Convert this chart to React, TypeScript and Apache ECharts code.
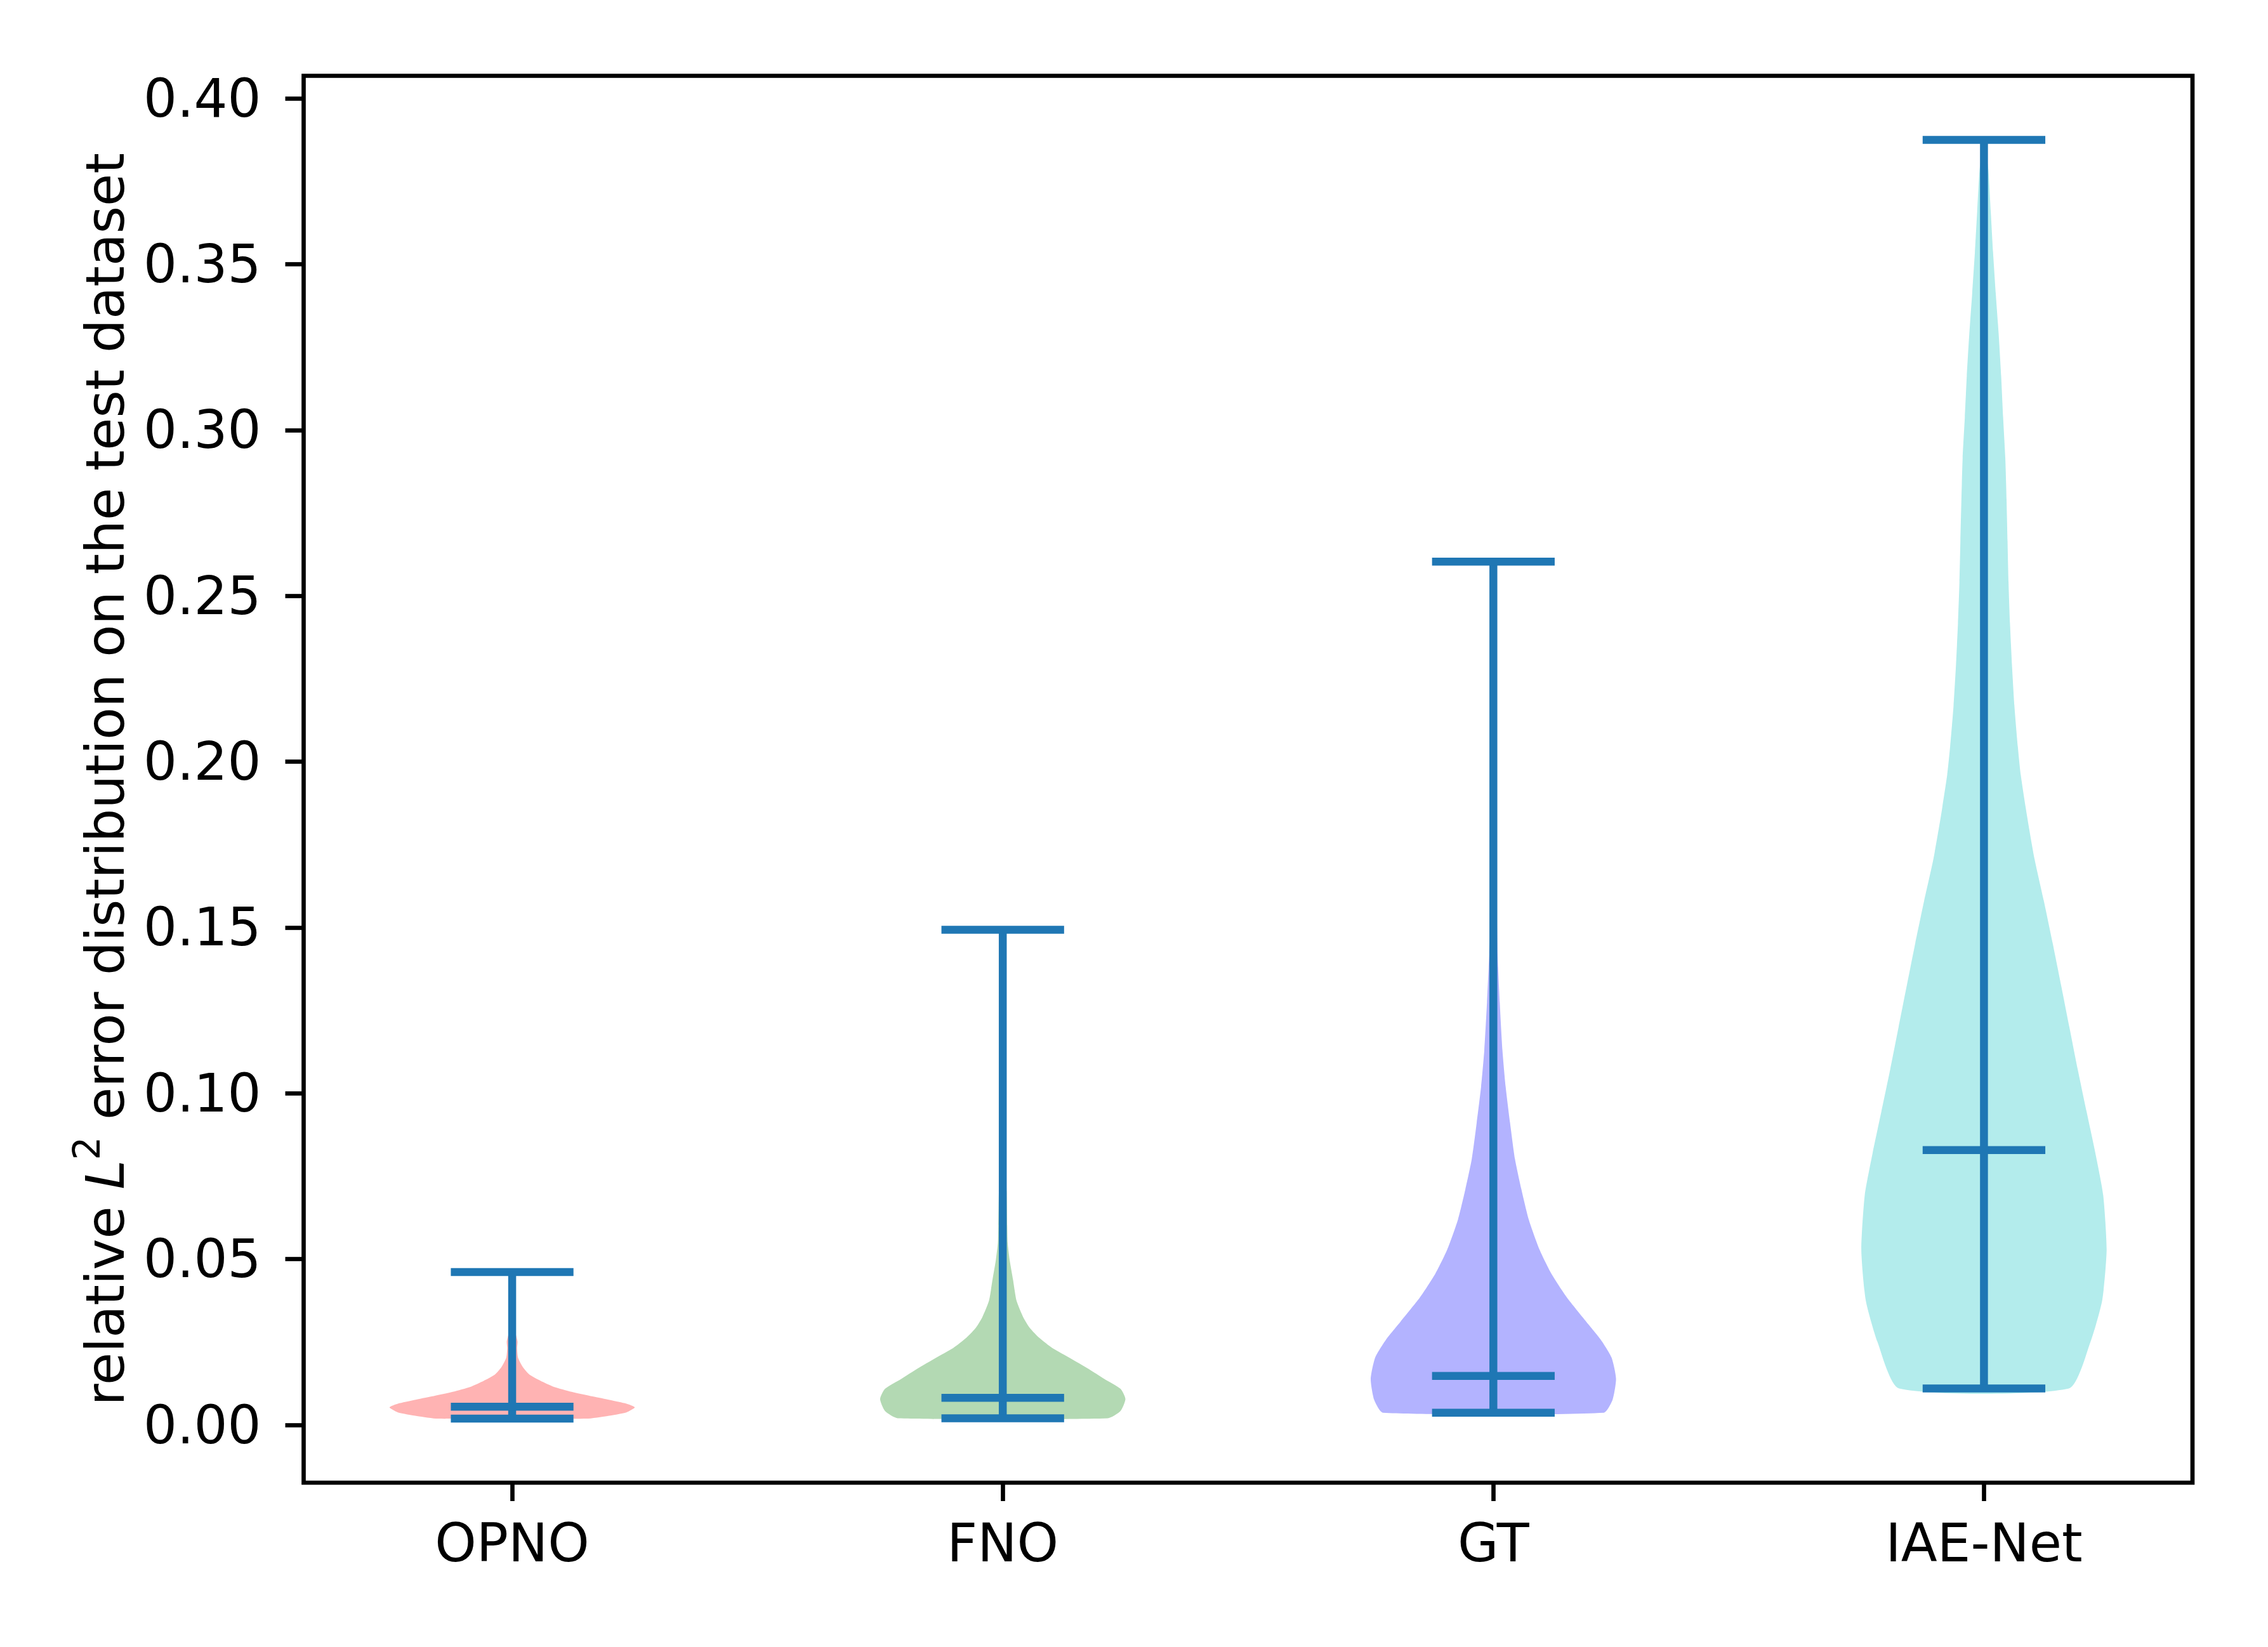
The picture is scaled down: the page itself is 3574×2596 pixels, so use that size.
import React, { useEffect, useRef } from "react";
import * as echarts from "echarts";

const categories = ["OPNO", "FNO", "GT", "IAE-Net"];
const positions = [1, 2, 3, 4];
const mins = [0.0019, 0.002, 0.0037, 0.011];
const medians = [0.0055, 0.0082, 0.0148, 0.0829];
const maxs = [0.0461, 0.1493, 0.2603, 0.3875];

const opnoY = [0.0019, 0.0027, 0.0038, 0.0053, 0.0064, 0.0075, 0.0086, 0.01, 0.0115, 0.0133, 0.0152, 0.0174, 0.0203, 0.0232, 0.0251, 0.0276, 0.0306, 0.035, 0.04, 0.0461];
const opnoW = [0.151, 0.194, 0.233, 0.25, 0.233, 0.2, 0.164, 0.121, 0.085, 0.058, 0.035, 0.022, 0.012, 0.01, 0.011, 0.007, 0.003, 0.001, 0.0005, 0.0002];

const fnoY = [0.002, 0.0042, 0.0078, 0.0109, 0.0139, 0.017, 0.0201, 0.0232, 0.0262, 0.0293, 0.0324, 0.0375, 0.0437, 0.0498, 0.0549, 0.0601, 0.0703, 0.0806, 0.0949, 0.101, 0.12, 0.1493];
const fnoW = [0.214, 0.24, 0.25, 0.24, 0.207, 0.174, 0.138, 0.101, 0.075, 0.055, 0.042, 0.028, 0.021, 0.014, 0.01, 0.009, 0.008, 0.006, 0.004, 0.002, 0.0008, 0.0002];

const gtY = [0.0037, 0.0076, 0.0139, 0.0203, 0.0257, 0.0312, 0.0384, 0.0457, 0.0529, 0.062, 0.0711, 0.0802, 0.0911, 0.102, 0.1129, 0.1274, 0.1419, 0.1564, 0.1746, 0.2037, 0.23, 0.2603];
const gtW = [0.225, 0.243, 0.25, 0.241, 0.219, 0.189, 0.15, 0.118, 0.094, 0.072, 0.057, 0.044, 0.034, 0.025, 0.0185, 0.013, 0.0086, 0.0069, 0.005, 0.003, 0.0015, 0.0003];

const iaeY = [0.011, 0.025, 0.0376, 0.0528, 0.0693, 0.082, 0.0946, 0.1073, 0.12, 0.1327, 0.1453, 0.158, 0.1707, 0.1834, 0.196, 0.2045, 0.2169, 0.2293, 0.2417, 0.2542, 0.2666, 0.279, 0.2915, 0.3039, 0.3163, 0.3288, 0.3412, 0.3536, 0.366, 0.3784, 0.3875];
const iaeW = [0.173, 0.217, 0.241, 0.25, 0.243, 0.227, 0.209, 0.191, 0.174, 0.157, 0.14, 0.122, 0.103, 0.088, 0.075, 0.069, 0.062, 0.057, 0.053, 0.05, 0.048, 0.046, 0.0435, 0.039, 0.035, 0.03, 0.024, 0.0185, 0.0138, 0.009, 0.0005];

const yTicks = [0, 0.05, 0.1, 0.15, 0.2, 0.25, 0.3, 0.35, 0.4];
const bodyColors = ["#ffb3b3", "#b3d9b3", "#b3b3ff", "#b3ecec"];
const lineColor = "#1f77b4";
const capHalf = 0.125;

const FONT = "DejaVu Sans";
const FS = 83.3;

export default function App() {
  const ref = useRef<HTMLDivElement>(null);
  useEffect(() => {
    const chart = echarts.init(ref.current!, null, { renderer: "svg" });
    const profiles = [
      [opnoY, opnoW],
      [fnoY, fnoW],
      [gtY, gtW],
      [iaeY, iaeW],
    ];
    chart.setOption({
      animation: false,
      backgroundColor: "#ffffff",
      grid: {
        left: 478.5,
        top: 119.5,
        width: 2976.5,
        height: 2217.5,
        show: true,
        borderColor: "#000",
        borderWidth: 6.67,
        backgroundColor: "transparent",
        containLabel: false,
      },
      xAxis: {
        type: "value",
        min: 0.575,
        max: 4.425,
        splitLine: { show: false },
        axisLine: { show: false, onZero: false },
        axisTick: {
          show: true,
          customValues: positions,
          length: 29,
          lineStyle: { color: "#000", width: 6.67 },
        },
        axisLabel: {
          customValues: positions,
          formatter: (v: number) => categories[Math.round(v) - 1],
          margin: 54,
          fontFamily: FONT,
          fontSize: FS,
          color: "#000",
        },
      },
      yAxis: {
        type: "value",
        min: -0.0174,
        max: 0.4068,
        splitLine: { show: false },
        axisLine: { show: false, onZero: false },
        axisTick: {
          show: true,
          customValues: yTicks,
          length: 29,
          lineStyle: { color: "#000", width: 6.67 },
        },
        axisLabel: {
          customValues: yTicks,
          formatter: (v: number) => v.toFixed(2),
          margin: 67,
          fontFamily: FONT,
          fontSize: FS,
          color: "#000",
        },
        name: "{n|relative }{i|L}{s|2}{n| error distribution on the test dataset}",
        nameLocation: "middle",
        nameGap: 271,
        nameTextStyle: {
          fontFamily: FONT,
          fontSize: FS,
          color: "#000",
          rich: {
            n: { fontFamily: FONT, fontSize: FS, color: "#000", lineHeight: 100, verticalAlign: "bottom" },
            i: { fontFamily: FONT, fontSize: FS, fontStyle: "italic", color: "#000", lineHeight: 100, verticalAlign: "bottom" },
            s: { fontFamily: FONT, fontSize: 58, color: "#000", lineHeight: 50, verticalAlign: "top" },
          },
        },
      },
      series: [
        {
          type: "custom",
          name: "bodies",
          data: positions.map((p, i) => [p, medians[i]]),
          encode: { x: 0, y: 1 },
          renderItem: (params: any, api: any) => {
            const idx = params.dataIndex;
            const p = positions[idx];
            const ys = profiles[idx][0];
            const ws = profiles[idx][1];
            const left = ys.map((y, k) => api.coord([p - ws[k], y]));
            const right = ys.map((y, k) => api.coord([p + ws[k], y])).reverse();
            return {
              type: "polygon",
              shape: { points: left.concat(right), smooth: 0.2 },
              style: { fill: bodyColors[idx], stroke: "none" },
            };
          },
          z: 2,
        },
        {
          type: "custom",
          name: "lines",
          data: positions.map((p, i) => [p, medians[i]]),
          encode: { x: 0, y: 1 },
          renderItem: (params: any, api: any) => {
            const idx = params.dataIndex;
            const p = positions[idx];
            const st = { stroke: lineColor, lineWidth: 12.5, lineCap: "butt" };
            const hLine = (v: number) => {
              const a = api.coord([p - capHalf, v]);
              const b = api.coord([p + capHalf, v]);
              return { type: "line", shape: { x1: a[0], y1: a[1], x2: b[0], y2: b[1] }, style: st };
            };
            const top = api.coord([p, maxs[idx]]);
            const bot = api.coord([p, mins[idx]]);
            return {
              type: "group",
              children: [
                { type: "line", shape: { x1: top[0], y1: top[1], x2: bot[0], y2: bot[1] }, style: st },
                hLine(maxs[idx]),
                hLine(mins[idx]),
                hLine(medians[idx]),
              ],
            };
          },
          z: 3,
        },
      ],
    });
    return () => chart.dispose();
  }, []);
  return (
    <div
      ref={ref}
      style={{ position: "absolute", left: 0, top: 0, width: 3574, height: 2596, background: "#fff" }}
    />
  );
}
